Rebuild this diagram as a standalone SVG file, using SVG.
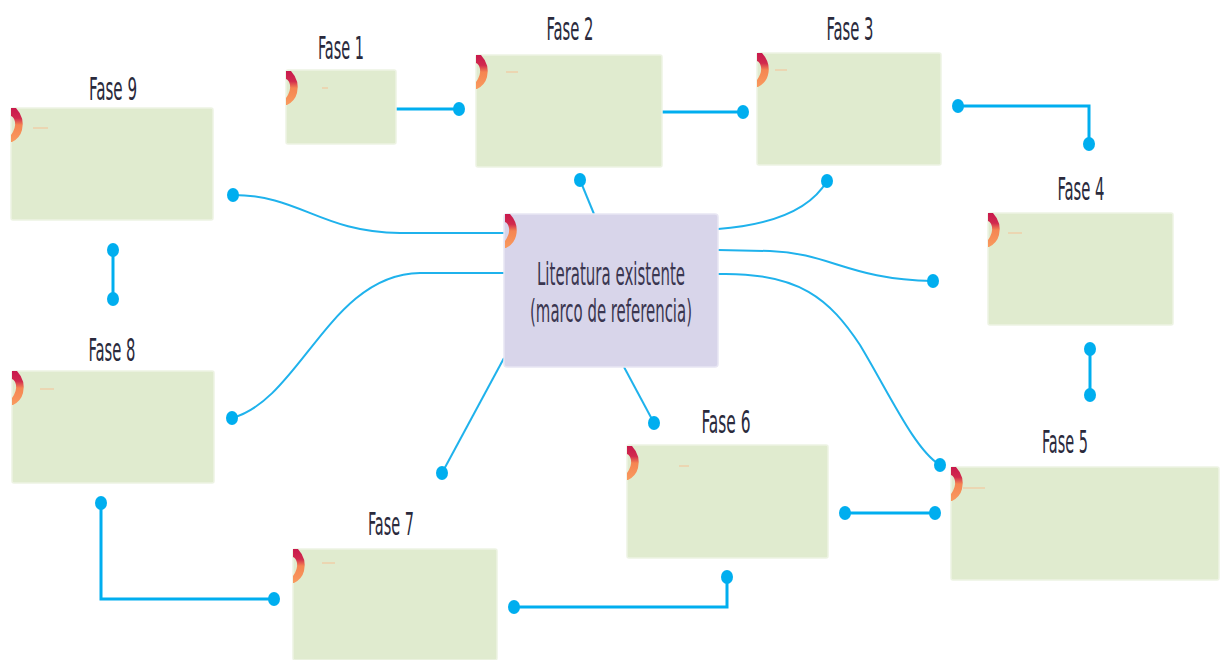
<svg xmlns="http://www.w3.org/2000/svg" width="1222" height="660" viewBox="0 0 1222 660">
<style>
.box{fill:#e0ebcf;stroke:#edf3e3;stroke-width:1.5}
.center{fill:#d8d5ea;stroke:#e8e6f3;stroke-width:1.5}
.lbl{font-family:"Liberation Sans Narrow","DejaVu Sans Condensed","Liberation Sans",sans-serif;font-size:32px;fill:#2a2a3c;text-anchor:middle}
.ctext{font-family:"Liberation Sans Narrow","DejaVu Sans Condensed","Liberation Sans",sans-serif;font-size:32px;fill:#3a3650;text-anchor:middle}
.solid{fill:none;stroke:#00aeef;stroke-width:3}
.curve{fill:none;stroke:#1fb2ec;stroke-width:2}
.dot{fill:#00aeef}
.dash{stroke:#efcfa8;stroke-width:1.5}
</style>
<defs>
<linearGradient id="ig" x1="0" y1="0" x2="0" y2="1">
<stop offset="0" stop-color="#c8194d"/>
<stop offset="0.3" stop-color="#d12a4e"/>
<stop offset="0.5" stop-color="#f58552"/>
<stop offset="1" stop-color="#f99a5e"/>
</linearGradient>
<path id="icon" d="M0,0 L5,0 Q14,10 11,22 Q9,30 1,34 L0,34 L0,27 Q5,20 4,14 Q3,9 0,8 Z" fill="url(#ig)"/>
</defs>
<g id="connectors">
<path class="solid" d="M396,109 L458,109"/>
<ellipse class="dot" cx="459" cy="109" rx="6" ry="7"/>
<path class="solid" d="M662,112 L742,112"/>
<ellipse class="dot" cx="743" cy="112" rx="6" ry="7"/>
<ellipse class="dot" cx="958" cy="106" rx="6" ry="7"/>
<path class="solid" d="M958,106 L1089,106 L1089,144"/>
<ellipse class="dot" cx="1089" cy="144" rx="6" ry="7"/>
<ellipse class="dot" cx="1090" cy="349" rx="6" ry="7"/>
<path class="solid" d="M1090,349 L1090,395"/>
<ellipse class="dot" cx="1090" cy="395" rx="6" ry="7"/>
<ellipse class="dot" cx="845" cy="513" rx="6" ry="7"/>
<path class="solid" d="M845,513 L935,513"/>
<ellipse class="dot" cx="935" cy="513" rx="6" ry="7"/>
<ellipse class="dot" cx="727" cy="577" rx="6" ry="7"/>
<path class="solid" d="M727,577 L727,607 L514,607"/>
<ellipse class="dot" cx="514" cy="607" rx="6" ry="7"/>
<ellipse class="dot" cx="101" cy="503" rx="6" ry="7"/>
<path class="solid" d="M101,503 L101,599 L274,599"/>
<ellipse class="dot" cx="274" cy="599" rx="6" ry="7"/>
<ellipse class="dot" cx="113" cy="250" rx="6" ry="7"/>
<path class="solid" d="M113,250 L113,299"/>
<ellipse class="dot" cx="113" cy="299" rx="6" ry="7"/>
<path class="curve" d="M233,195 C300,195 320,232 400,233 L505,233"/>
<ellipse class="dot" cx="233" cy="195" rx="6" ry="7"/>
<path class="curve" d="M232,418 C300,400 330,274 420,273 L505,273"/>
<ellipse class="dot" cx="232" cy="418" rx="6" ry="7"/>
<path class="curve" d="M504,358 L442,473"/>
<ellipse class="dot" cx="442" cy="473" rx="6" ry="7"/>
<path class="curve" d="M624,367 L654,423"/>
<ellipse class="dot" cx="654" cy="423" rx="6" ry="7"/>
<path class="curve" d="M594,214 L580,180"/>
<ellipse class="dot" cx="580" cy="180" rx="6" ry="7"/>
<path class="curve" d="M718,229 C770,225 810,210 827,181"/>
<ellipse class="dot" cx="827" cy="181" rx="6" ry="7"/>
<path class="curve" d="M718,250 L770,251 C830,253 850,280 933,281"/>
<ellipse class="dot" cx="933" cy="281" rx="6" ry="7"/>
<path class="curve" d="M718,274 C800,272 830,300 860,345 C890,395 915,450 940,465"/>
<ellipse class="dot" cx="940" cy="465" rx="6" ry="7"/>
</g>
<g id="center">
<rect class="center" x="504" y="214" width="214" height="153" rx="3"/>
<use href="#icon" x="505" y="214"/>
<text class="ctext" x="611" y="285" textLength="148" lengthAdjust="spacingAndGlyphs">Literatura existente</text>
<text class="ctext" x="611" y="322" textLength="162" lengthAdjust="spacingAndGlyphs">(marco de referencia)</text>
</g>
<g id="fase1">
<rect class="box" x="286" y="70" width="110" height="74" rx="2"/>
<use href="#icon" x="286" y="71"/>
<line class="dash" x1="322" y1="88" x2="328" y2="88"/>
<text class="lbl" x="341" y="59" textLength="46" lengthAdjust="spacingAndGlyphs">Fase 1</text>
</g>
<g id="fase2">
<rect class="box" x="476" y="55" width="186" height="112" rx="2"/>
<use href="#icon" x="476" y="55"/>
<line class="dash" x1="506" y1="72" x2="518" y2="72"/>
<text class="lbl" x="570" y="40" textLength="47" lengthAdjust="spacingAndGlyphs">Fase 2</text>
</g>
<g id="fase3">
<rect class="box" x="757" y="53" width="184" height="112" rx="2"/>
<use href="#icon" x="757" y="53"/>
<line class="dash" x1="775" y1="70" x2="787" y2="70"/>
<text class="lbl" x="850" y="40" textLength="47" lengthAdjust="spacingAndGlyphs">Fase 3</text>
</g>
<g id="fase4">
<rect class="box" x="988" y="213" width="185" height="112" rx="2"/>
<use href="#icon" x="988" y="213"/>
<line class="dash" x1="1008" y1="233" x2="1022" y2="233"/>
<text class="lbl" x="1081" y="200" textLength="47" lengthAdjust="spacingAndGlyphs">Fase 4</text>
</g>
<g id="fase5">
<rect class="box" x="951" y="467" width="268" height="113" rx="2"/>
<use href="#icon" x="951" y="467"/>
<line class="dash" x1="963" y1="488" x2="985" y2="488"/>
<text class="lbl" x="1065" y="453" textLength="46" lengthAdjust="spacingAndGlyphs">Fase 5</text>
</g>
<g id="fase6">
<rect class="box" x="627" y="445" width="201" height="113" rx="2"/>
<use href="#icon" x="627" y="446"/>
<line class="dash" x1="679" y1="466" x2="689" y2="466"/>
<text class="lbl" x="726" y="433" textLength="49" lengthAdjust="spacingAndGlyphs">Fase 6</text>
</g>
<g id="fase7">
<rect class="box" x="293" y="549" width="204" height="111" rx="2"/>
<use href="#icon" x="293" y="549"/>
<line class="dash" x1="322" y1="563" x2="335" y2="563"/>
<text class="lbl" x="391" y="535" textLength="46" lengthAdjust="spacingAndGlyphs">Fase 7</text>
</g>
<g id="fase8">
<rect class="box" x="12" y="371" width="202" height="112" rx="2"/>
<use href="#icon" x="12" y="371"/>
<line class="dash" x1="40" y1="389" x2="54" y2="389"/>
<text class="lbl" x="112" y="361" textLength="47" lengthAdjust="spacingAndGlyphs">Fase 8</text>
</g>
<g id="fase9">
<rect class="box" x="11" y="108" width="202" height="112" rx="2"/>
<use href="#icon" x="11" y="108"/>
<line class="dash" x1="33" y1="128" x2="48" y2="128"/>
<text class="lbl" x="113" y="100" textLength="48" lengthAdjust="spacingAndGlyphs">Fase 9</text>
</g>
</svg>
